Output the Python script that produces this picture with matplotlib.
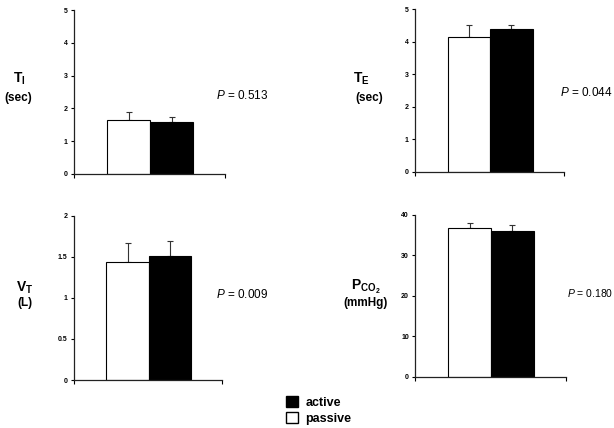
import matplotlib
matplotlib.use("Agg")
import matplotlib.pyplot as plt
from matplotlib.patches import Patch

plt.rcParams['font.family'] = ['Liberation Sans', 'DejaVu Sans']
plt.rcParams['mathtext.fontset'] = 'custom'
plt.rcParams['mathtext.rm'] = 'Liberation Sans'
plt.rcParams['mathtext.it'] = 'Liberation Sans:italic'
plt.rcParams['mathtext.bf'] = 'Liberation Sans:bold'

# data: passive (white) and active (black), mean and upper SE
groups = ['passive', 'active']
ti_mean = [1.65, 1.60]
ti_err = [0.24, 0.15]
te_mean = [4.15, 4.39]
te_err = [0.38, 0.14]
vt_mean = [1.44, 1.51]
vt_err = [0.23, 0.18]
pco2_mean = [36.9, 36.1]
pco2_err = [1.1, 1.4]

p_values = ['0.513', '0.044', '0.009', '0.180']
labels = [r'$\mathbf{T_I}$', r'$\mathbf{T_E}$', r'$\mathbf{V_T}$', r'$\mathbf{P_{CO_2}}$']
units = ['(sec)', '(sec)', '(L)', '(mmHg)']
ylims = [5, 5, 2, 40]
yticks = [[0, 1, 2, 3, 4, 5], [0, 1, 2, 3, 4, 5], [0, 0.5, 1, 1.5, 2], [0, 10, 20, 30, 40]]
yticklabels = [['0', '1', '2', '3', '4', '5'], ['0', '1', '2', '3', '4', '5'],
               ['0', '0.5', '1', '1.5', '2'], ['0', '10', '20', '30', '40']]

fig = plt.figure(figsize=(6.14, 4.28), dpi=100)

# axes rectangles [left, bottom, width, height]
rects = [[0.1205, 0.5935, 0.246, 0.383],
         [0.676, 0.5988, 0.2427, 0.3795],
         [0.1205, 0.1121, 0.2411, 0.384],
         [0.676, 0.1199, 0.2453, 0.3778]]
label_pos = [(0.031, 0.815), (0.588, 0.815), (0.040, 0.327), (0.596, 0.329)]
unit_pos = [(0.029, 0.771), (0.601, 0.771), (0.041, 0.292), (0.596, 0.292)]
p_pos = [(0.352, 0.778), (0.912, 0.783), (0.352, 0.311), (0.924, 0.315)]
p_size = [8.5, 8.5, 8.5, 7.5]

means = [ti_mean, te_mean, vt_mean, pco2_mean]
errs = [ti_err, te_err, vt_err, pco2_err]

for i in range(4):
    ax = fig.add_axes(rects[i])
    x = [0, 1]
    ax.bar(x, means[i], width=1.0, color=['white', 'black'], edgecolor='black',
           linewidth=0.8, zorder=2)
    ax.errorbar(x, means[i], yerr=[[0, 0], errs[i]], fmt='none', ecolor='#333333',
                elinewidth=0.8, capsize=2.5, capthick=0.8, zorder=1)
    ax.set_xlim(-1.27, 2.24)
    ax.set_ylim(0, ylims[i])
    ax.set_yticks(yticks[i])
    ax.set_yticklabels(yticklabels[i], fontsize=5, fontweight='bold')
    ax.set_xticks([-1.27, 2.24])
    ax.set_xticklabels([])
    for s in ['top', 'right']:
        ax.spines[s].set_visible(False)
    for s in ['left', 'bottom']:
        ax.spines[s].set_linewidth(0.9)
        ax.spines[s].set_color('#222222')
    ax.tick_params(axis='y', direction='out', length=2.5, width=0.8, pad=2)
    ax.tick_params(axis='x', direction='out', length=3, width=0.8)

    fig.text(label_pos[i][0], label_pos[i][1], labels[i], fontsize=10,
             ha='center', va='center')
    fig.text(unit_pos[i][0], unit_pos[i][1], units[i], fontsize=8.5,
             fontweight='bold', ha='center', va='center')
    fig.text(p_pos[i][0], p_pos[i][1], r'$\it{P}$ = ' + p_values[i], fontsize=p_size[i],
             ha='left', va='center')

handles = [Patch(facecolor='black', edgecolor='black', label='active'),
           Patch(facecolor='white', edgecolor='black', label='passive')]
fig.legend(handles=handles, loc='upper left', bbox_to_anchor=(0.455, 0.09),
           frameon=False, handlelength=1.0, handleheight=1.0, handletextpad=0.6,
           labelspacing=0.25, prop={'size': 9, 'weight': 'bold'}, borderpad=0)

fig.savefig('out.png', dpi=100)
